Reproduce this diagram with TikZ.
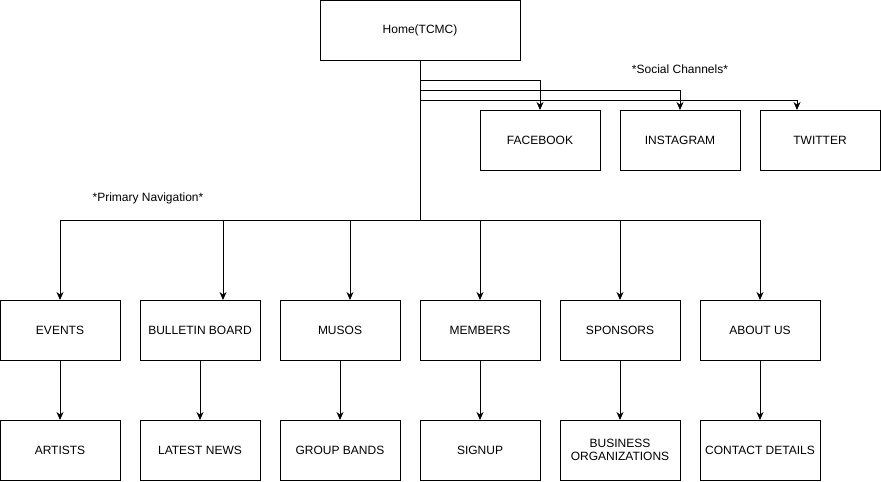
\documentclass[tikz,border=0pt]{standalone}
\usepackage{fontspec}
\setmainfont{Liberation Sans}
\usetikzlibrary{arrows.meta, positioning}

\begin{document}
\begin{tikzpicture}[
  x=1pt, y=1pt,
  node distance=20pt,
  page/.style={
    draw, line width=0.9pt, outer sep=0pt,
    minimum width=120pt, minimum height=60pt,
    align=center, font=\fontsize{12}{13}\selectfont,
    inner sep=1pt
  },
  tag/.style={font=\fontsize{12}{13}\selectfont},
  line/.style={line width=0.9pt},
  arr/.style={-{Stealth[length=8pt, width=7pt]}, line width=0.9pt}
]
  \useasboundingbox (0,0) rectangle (881,-482);

  % site root
  \node[page, minimum width=200pt] (home) at (420,-30) {Home(TCMC)};

  % social channels
  \node[page] (fb) at (540,-140) {FACEBOOK};
  \node[page, right=of fb] (ig) {INSTAGRAM};
  \node[page, right=of ig] (tw) {TWITTER};
  \node[tag] (social) at (680,-69) {*Social Channels*};

  % primary navigation
  \node[page] (events) at (60,-330) {EVENTS};
  \node[page, right=of events] (board) {BULLETIN BOARD};
  \node[page, right=of board] (musos) {MUSOS};
  \node[page, right=of musos] (members) {MEMBERS};
  \node[page, right=of members] (sponsors) {SPONSORS};
  \node[page, right=of sponsors] (about) {ABOUT US};
  \node[tag] (primary) at (148,-198) {*Primary Navigation*};

  % second level
  \node[page, below=60pt of events] (artists) {ARTISTS};
  \node[page, below=60pt of board] (news) {LATEST NEWS};
  \node[page, below=60pt of musos] (bands) {GROUP BANDS};
  \node[page, below=60pt of members] (signup) {SIGNUP};
  \node[page, below=60pt of sponsors] (business) {BUSINESS\\ORGANIZATIONS};
  \node[page, below=60pt of about] (contact) {CONTACT DETAILS};

  % trunk down to the nav bar
  \draw[line] (home.south) -- ++(0,-160) coordinate (hub);

  \draw[arr] (home.south) -- ++(0,-20) -| (fb.north);
  \draw[arr] (home.south) -- ++(0,-30) -| (ig.north);
  \draw[arr] (home.south) -- ++(0,-40) -| ([xshift=-23pt]tw.north);

  \draw[arr] (hub) -| (events.north);
  \draw[arr] (hub) -| ([xshift=23pt]board.north);
  \draw[arr] (hub) -| ([xshift=10pt]musos.north);
  \draw[arr] (hub) -| (members.north);
  \draw[arr] (hub) -| (sponsors.north);
  \draw[arr] (hub) -| (about.north);

  \draw[arr] (events) -- (artists);
  \draw[arr] (board) -- (news);
  \draw[arr] (musos) -- (bands);
  \draw[arr] (members) -- (signup);
  \draw[arr] (sponsors) -- (business);
  \draw[arr] (about) -- (contact);
\end{tikzpicture}
\end{document}
